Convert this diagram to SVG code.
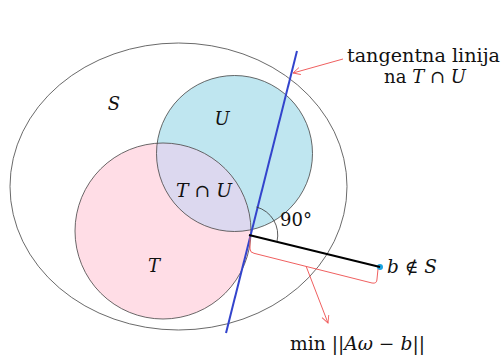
<svg xmlns="http://www.w3.org/2000/svg" width="502" height="360" viewBox="0 0 502 360">
<defs>
<style>
.outline{fill:none;stroke:#444;stroke-width:0.8}
.lbl{font-family:"DejaVu Serif","Liberation Serif",serif;font-size:18px;fill:#111}
.math{font-style:italic}
.red{fill:none;stroke:#f06060;stroke-width:1}
</style>
<marker id="openarrow" viewBox="0 0 10 10" refX="9" refY="5" markerWidth="9" markerHeight="9" orient="auto" markerUnits="userSpaceOnUse">
<path d="M1,1 L9,5 L1,9" fill="none" stroke="#f06060" stroke-width="1"/>
</marker>
<clipPath id="clipT"><circle cx="163" cy="231" r="88"/></clipPath>
</defs>
<rect width="502" height="360" fill="#fff"/>
<g id="S">
<ellipse cx="178.5" cy="186.5" rx="168.5" ry="143.5" class="outline"/>
<text x="114" y="110" class="lbl math" text-anchor="middle">S</text>
</g>
<g id="U">
<circle cx="234.5" cy="153.5" r="78" fill="#bfe6f0"/>
</g>
<g id="T">
<circle cx="163" cy="231" r="88" fill="#ffdde6"/>
</g>
<g id="TU">
<circle cx="234.5" cy="153.5" r="78" fill="#dcd8ef" clip-path="url(#clipT)"/>
<circle cx="234.5" cy="153.5" r="78" class="outline"/>
<circle cx="163" cy="231" r="88" class="outline"/>
<text x="222" y="125" class="lbl math" text-anchor="middle">U</text>
<text x="154" y="272" class="lbl math" text-anchor="middle">T</text>
<text x="176" y="197" class="lbl" textLength="56" lengthAdjust="spacingAndGlyphs"><tspan class="math">T</tspan> ∩ <tspan class="math">U</tspan></text>
</g>
<g id="b">
<circle cx="380" cy="267" r="3" fill="#1aa3e0"/>
<text x="387" y="273" class="lbl" textLength="50" lengthAdjust="spacingAndGlyphs"><tspan class="math">b</tspan> ∉ <tspan class="math">S</tspan></text>
</g>
<g id="connectors">
<line x1="297" y1="51" x2="226" y2="333" stroke="#3344cc" stroke-width="2"/>
<line x1="249" y1="235" x2="380" y2="267" stroke="#000" stroke-width="2"/>
<path d="M256.5,207 A29,29 0 0 1 277,241.5" fill="none" stroke="#333" stroke-width="0.8"/>
<path class="red" d="M250,237 L250,249 Q250,252.5 254,253.3 L372,283 Q377,284 377,279 L378,269"/>
<line class="red" x1="306" y1="266" x2="328" y2="323" marker-end="url(#openarrow)"/>
<line class="red" x1="343" y1="59" x2="293" y2="73" marker-end="url(#openarrow)"/>
</g>
<g id="labels">
<text x="280" y="226" class="lbl" textLength="32" lengthAdjust="spacingAndGlyphs">90°</text>
<text x="347" y="62" class="lbl" textLength="153" lengthAdjust="spacingAndGlyphs">tangentna linija</text>
<text x="425" y="83" class="lbl" text-anchor="middle">na <tspan class="math">T</tspan> ∩ <tspan class="math">U</tspan></text>
<text x="290" y="350" class="lbl" textLength="135" lengthAdjust="spacingAndGlyphs">min ||<tspan class="math">Aω</tspan> − <tspan class="math">b</tspan>||</text>
</g>
</svg>
